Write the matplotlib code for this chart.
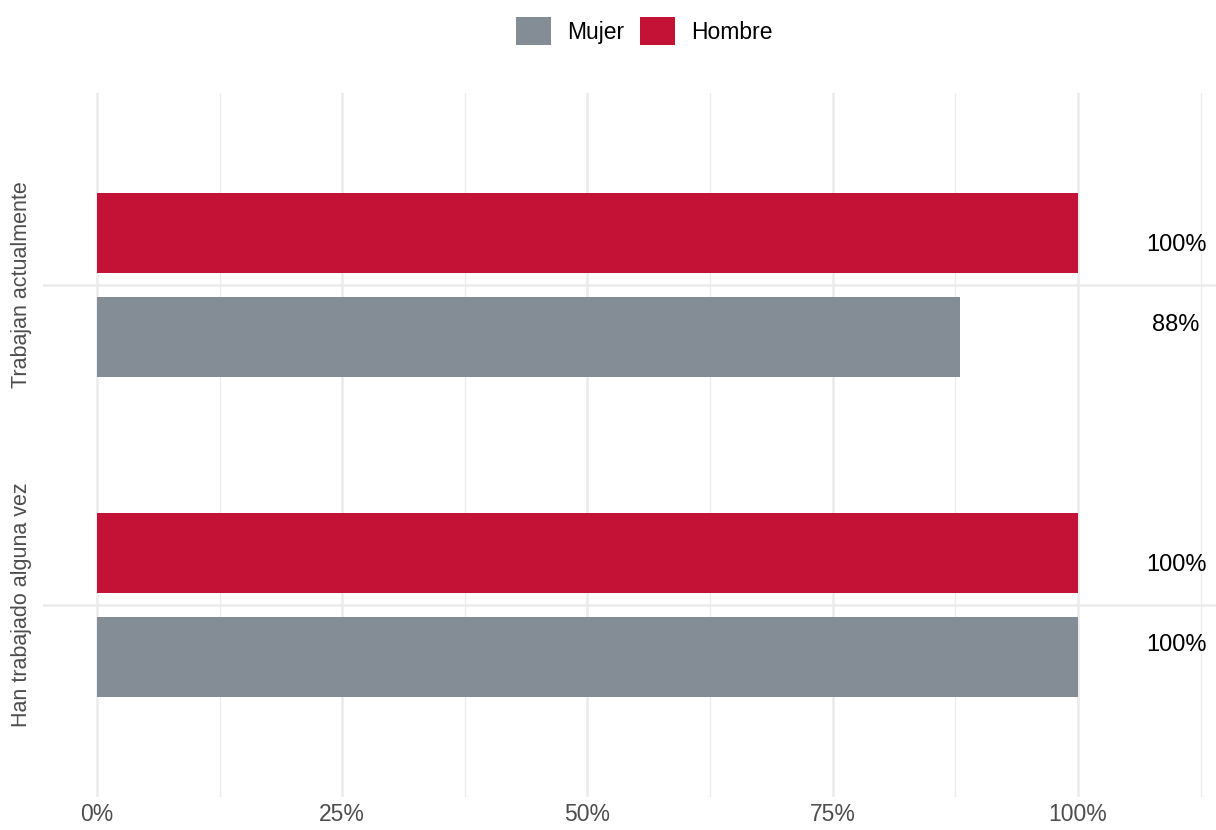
import numpy as np
import matplotlib
matplotlib.use("Agg")
import matplotlib.pyplot as plt
from matplotlib.patches import Patch

plt.rcParams['font.family'] = ['Liberation Sans', 'DejaVu Sans']

categorias = ["Han trabajado alguna vez", "Trabajan actualmente"]
mujer = [1.00, 0.88]
hombre = [1.00, 1.00]
etiquetas_mujer = ["100%", "88%"]
etiquetas_hombre = ["100%", "100%"]

col_mujer = "#848C96"
col_hombre = "#C41236"
col_grid = "#EBEBEB"

W, H = 1216, 830
fig = plt.figure(figsize=(W / 100, H / 100), dpi=100)
ax = fig.add_axes([43 / W, (H - 797) / H, (W - 43) / W, (797 - 93) / H])

y = np.arange(len(categorias))
off = 0.1625
alto = 0.25

ax.barh(y + off, hombre, height=alto, color=col_hombre, zorder=3)
ax.barh(y - off, mujer, height=alto, color=col_mujer, zorder=3)

# etiquetas a la derecha de cada barra
for i in range(len(categorias)):
    ax.text(1.1, y[i] + 0.125, etiquetas_hombre[i], ha="center", va="center",
            fontsize=17, color="black", zorder=4)
    ax.text(1.1, y[i] - 0.125, etiquetas_mujer[i], ha="center", va="center",
            fontsize=17, color="black", zorder=4)

ax.set_xlim(-0.055, (W - 97) / 981)
ax.set_ylim(-0.6, 1.6)

ax.set_xticks([0, 0.25, 0.5, 0.75, 1.0])
ax.set_xticklabels(["0%", "25%", "50%", "75%", "100%"])
ax.set_xticks(np.arange(0.125, 1.2, 0.25), minor=True)
ax.set_yticks(y)
ax.set_yticklabels(categorias, rotation=90, va="center")

ax.tick_params(axis="x", which="both", length=0, pad=4, labelsize=16.5, labelcolor="#4D4D4D")
ax.tick_params(axis="y", which="both", length=0, pad=8, labelsize=15.5, labelcolor="#4D4D4D")

ax.grid(True, which="major", color=col_grid, linewidth=1.8, zorder=0)
ax.grid(True, which="minor", axis="x", color=col_grid, linewidth=1.0, zorder=0)
ax.set_axisbelow(True)
for s in ax.spines.values():
    s.set_visible(False)

handles = [Patch(facecolor=col_mujer, label="Mujer"),
           Patch(facecolor=col_hombre, label="Hombre")]
fig.legend(handles=handles, loc="center", bbox_to_anchor=(644 / W, 1 - 31 / H),
           ncol=2, frameon=False, fontsize=16.5, handlelength=1.52, handleheight=1.52,
           handletextpad=0.7, columnspacing=0.7, borderaxespad=0)

fig.savefig("out.png", dpi=100)
